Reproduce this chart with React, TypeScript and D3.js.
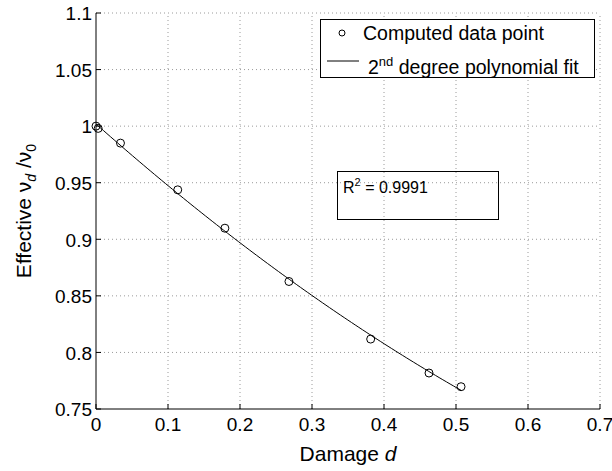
import React from "react";
import * as d3 from "d3";

// computed points
const damage = [0, 0.003, 0.034, 0.1135, 0.179, 0.268, 0.3815, 0.4625, 0.507];
const ratio = [1.0, 0.998, 0.985, 0.9437, 0.9098, 0.8627, 0.8118, 0.7818, 0.7697];

const xTicks = [0, 0.1, 0.2, 0.3, 0.4, 0.5, 0.6, 0.7];
const yTicks = [0.75, 0.8, 0.85, 0.9, 0.95, 1, 1.05, 1.1];
const xTickLabels = ["0", "0.1", "0.2", "0.3", "0.4", "0.5", "0.6", "0.7"];
const yTickLabels = ["0.75", "0.8", "0.85", "0.9", "0.95", "1", "1.05", "1.1"];

const rSquared = "0.9991";

const W = 612;
const H = 471;
const margin = { top: 13, right: 12, bottom: 62, left: 96 };
const FONT = "'Liberation Sans', Arial, Helvetica, sans-serif";

// least squares quadratic y = c0 + c1 x + c2 x^2
const quadFit = (xs: number[], ys: number[]) => {
  const s = [0, 0, 0, 0, 0];
  const t = [0, 0, 0];
  xs.forEach((x, i) => {
    for (let k = 0; k < 5; k++) s[k] += Math.pow(x, k);
    for (let k = 0; k < 3; k++) t[k] += ys[i] * Math.pow(x, k);
  });
  const A = [
    [s[0], s[1], s[2], t[0]],
    [s[1], s[2], s[3], t[1]],
    [s[2], s[3], s[4], t[2]],
  ];
  for (let i = 0; i < 3; i++) {
    for (let j = i + 1; j < 3; j++) {
      const f = A[j][i] / A[i][i];
      for (let k = i; k < 4; k++) A[j][k] -= f * A[i][k];
    }
  }
  const c = [0, 0, 0];
  for (let i = 2; i >= 0; i--) {
    let v = A[i][3];
    for (let k = i + 1; k < 3; k++) v -= A[i][k] * c[k];
    c[i] = v / A[i][i];
  }
  return c;
};

export default function App() {
  const x = d3
    .scaleLinear()
    .domain([0, 0.7])
    .range([margin.left, W - margin.right]);
  const y = d3
    .scaleLinear()
    .domain([0.75, 1.1])
    .range([H - margin.bottom, margin.top]);

  const coef = quadFit(damage, ratio);
  const dMax = d3.max(damage) as number;
  const fitPts = d3
    .range(0, 101)
    .map((i) => (i / 100) * dMax)
    .map((d) => [d, coef[0] + coef[1] * d + coef[2] * d * d] as [number, number]);
  const line = d3
    .line<[number, number]>()
    .x((d) => x(d[0]))
    .y((d) => y(d[1]));

  const x0 = x(0);
  const x1 = x(0.7);
  const y0 = y(0.75);
  const y1 = y(1.1);

  return (
    <div style={{ position: "absolute", left: 0, top: 0 }}>
      <svg width={W} height={H} style={{ display: "block", background: "#fff" }} fontFamily={FONT}>
        {/* grid */}
        <g stroke="#9a9a9a" strokeWidth={1} strokeDasharray="1,3">
          {xTicks.slice(1).map((t) => (
            <line key={"gx" + t} x1={x(t)} x2={x(t)} y1={y0} y2={y1} />
          ))}
          {yTicks.slice(1).map((t) => (
            <line key={"gy" + t} x1={x0} x2={x1} y1={y(t)} y2={y(t)} />
          ))}
        </g>

        {/* axes */}
        <g stroke="#000" strokeWidth={1} fill="none">
          <line x1={x0} x2={x0} y1={y1} y2={y0} />
          <line x1={x0} x2={x1} y1={y0} y2={y0} />
          {xTicks.map((t) => (
            <line key={"tx" + t} x1={x(t)} x2={x(t)} y1={y0} y2={y0 - 5} />
          ))}
          {yTicks.map((t) => (
            <line key={"ty" + t} x1={x0} x2={x0 + 5} y1={y(t)} y2={y(t)} />
          ))}
        </g>

        {/* tick labels */}
        <g fontSize={19} fill="#000">
          {xTicks.map((t, i) => (
            <text key={"lx" + t} x={x(t)} y={y0 + 22} textAnchor="middle">
              {xTickLabels[i]}
            </text>
          ))}
          {yTicks.map((t, i) => (
            <text key={"ly" + t} x={x0 - 4} y={y(t)} dy="0.38em" textAnchor="end">
              {yTickLabels[i]}
            </text>
          ))}
        </g>

        {/* axis titles */}
        <text x={(x0 + x1) / 2} y={461} fontSize={21} textAnchor="middle">
          Damage <tspan fontStyle="italic">d</tspan>
        </text>
        <text
          transform={`translate(31,${(y0 + y1) / 2}) rotate(-90)`}
          fontSize={21}
          textAnchor="middle"
        >
          Effective ν
          <tspan fontSize={14} dy={5} fontStyle="italic">d</tspan>
          <tspan dy={-5}> /ν</tspan>
          <tspan fontSize={14} dy={5}>0</tspan>
        </text>

        {/* fit line */}
        <path d={line(fitPts) || ""} fill="none" stroke="#000" strokeWidth={1} />

        {/* data points */}
        {damage.map((d, i) => (
          <circle key={"p" + i} cx={x(d)} cy={y(ratio[i])} r={4} fill="none" stroke="#000" strokeWidth={1} />
        ))}

        {/* legend */}
        <g>
          <rect x={320.5} y={19.5} width={274} height={58} fill="#fff" stroke="#000" strokeWidth={1} />
          <circle cx={342} cy={33} r={3} fill="none" stroke="#000" strokeWidth={1} />
          <text x={363} y={40} fontSize={19.5}>
            Computed data point
          </text>
          <line x1={327} x2={359} y1={61} y2={61} stroke="#000" strokeWidth={1} />
          <text x={368} y={74} fontSize={19.5}>
            2<tspan fontSize={13} dy={-8}>nd</tspan>
            <tspan dy={8}> degree polynomial fit</tspan>
          </text>
        </g>

        {/* R^2 box */}
        <g>
          <rect x={337.5} y={171.5} width={161} height={48} fill="none" stroke="#000" strokeWidth={1} />
          <text x={343} y={193} fontSize={16}>
            R<tspan fontSize={11} dy={-7}>2</tspan>
            <tspan dy={7}> = {rSquared}</tspan>
          </text>
        </g>
      </svg>
    </div>
  );
}
